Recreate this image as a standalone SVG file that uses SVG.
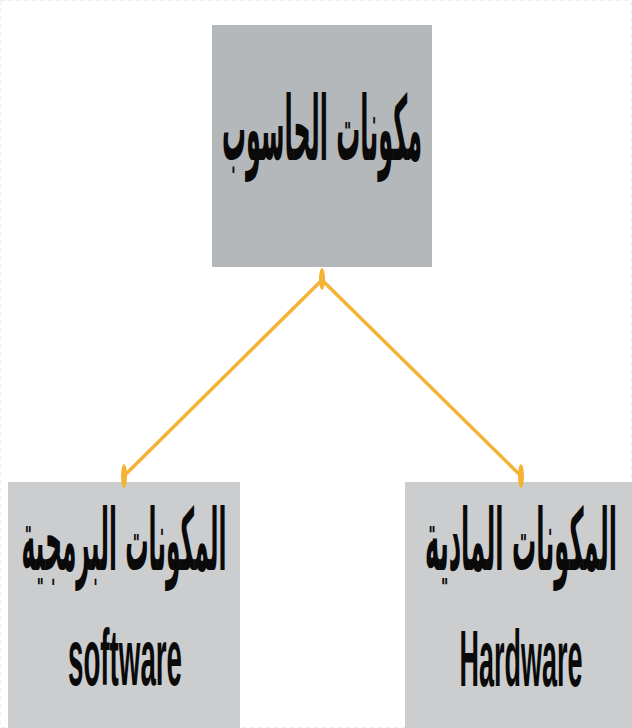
<svg xmlns="http://www.w3.org/2000/svg" width="632" height="728" viewBox="0 0 632 728">
<style>
.box-top{fill:#b5b8ba}
.box{fill:#cbcdce}
.ar{font-family:"DejaVu Sans","Noto Sans",sans-serif;font-weight:bold;fill:#0a0a0a;text-anchor:middle}
.en{font-family:"Liberation Sans","DejaVu Sans",sans-serif;font-weight:bold;fill:#0a0a0a;text-anchor:middle}
.conn{stroke:#f5b335;stroke-width:3.5;fill:none}
.tip{fill:#f5b335}
</style>
<rect x="0.5" y="0.5" width="631" height="727" fill="#ffffff" stroke="#eeeeee" stroke-width="1" stroke-dasharray="4 4"/>
<g id="node-top">
<rect class="box-top" x="212" y="25" width="220" height="242"/>
<text class="ar" x="322" y="160" font-size="90" textLength="200" lengthAdjust="spacingAndGlyphs">مكونات الحاسوب</text>
</g>
<g id="node-software">
<rect class="box" x="8" y="482" width="232" height="246"/>
<text class="ar" x="124" y="570" font-size="86" textLength="205" lengthAdjust="spacingAndGlyphs">المكونات البرمجية</text>
<text class="en" x="125" y="685" font-size="80" textLength="114" lengthAdjust="spacingAndGlyphs">software</text>
</g>
<g id="node-hardware">
<rect class="box" x="405" y="482" width="227" height="246"/>
<text class="ar" x="521" y="570" font-size="86" textLength="192" lengthAdjust="spacingAndGlyphs">المكونات المادية</text>
<text class="en" x="521" y="686" font-size="80" textLength="123" lengthAdjust="spacingAndGlyphs">Hardware</text>
</g>
<g id="connectors">
<line class="conn" x1="322" y1="280" x2="124" y2="476"/>
<line class="conn" x1="322" y1="280" x2="521" y2="476"/>
<ellipse class="tip" cx="322" cy="279" rx="3" ry="11"/>
<ellipse class="tip" cx="124" cy="476" rx="3" ry="12"/>
<ellipse class="tip" cx="521" cy="476" rx="3" ry="12"/>
</g>
</svg>
